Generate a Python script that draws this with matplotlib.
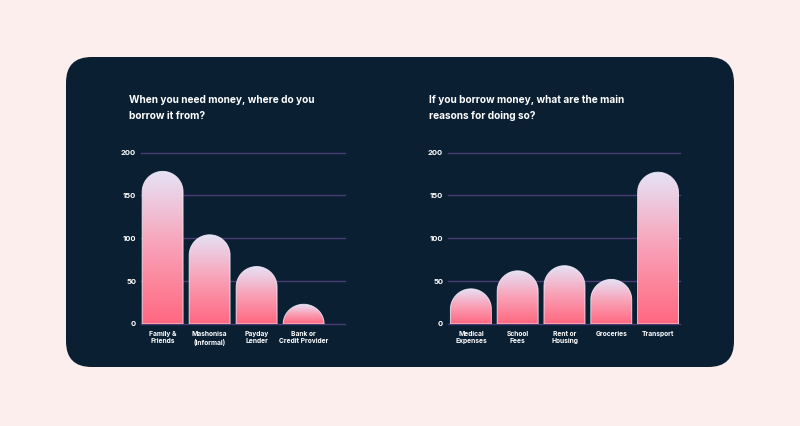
import numpy as np
import matplotlib
matplotlib.use("Agg")
import matplotlib.pyplot as plt
from matplotlib.patches import FancyBboxPatch, PathPatch
from matplotlib.path import Path
from matplotlib.colors import LinearSegmentedColormap

# ---- data ----
left_title = "When you need money, where do you\nborrow it from?"
left_labels = ["Family &\nFriends", "Mashonisa\n(Informal)", "Payday\nLender", "Bank or\nCredit Provider"]
left_values = [178, 104, 67, 23]

right_title = "If you borrow money, what are the main\nreasons for doing so?"
right_labels = ["Medical\nExpenses", "School\nFees", "Rent or\nHousing", "Groceries", "Transport"]
right_values = [41, 62, 68, 52, 177]

y_ticks = [0, 50, 100, 150, 200]

PAGE_BG = "#fdeeee"
PANEL_BG = "#0b1f33"
GRID = "#4a3c72"
FONT = ["Inter", "DejaVu Sans"]

plt.rcParams["font.family"] = FONT

bar_cmap = LinearSegmentedColormap.from_list(
    "bar", ["#ff6880", "#f9a0b6", "#e6e2f6"])


def rounded_bar(ax, xc, h, w, r_px):
    """bar with a round top, radius given in pixels so it stays circular"""
    bbox = ax.get_window_extent()
    y0, y1 = ax.get_ylim()
    px_y = bbox.height / (y1 - y0)
    rx = w / 2
    ry = min(r_px / px_y, h)
    t = np.linspace(np.pi, 0, 40)
    xs = [xc - w / 2, xc - w / 2] + list(xc + rx * np.cos(t)) + [xc + w / 2, xc + w / 2]
    ys = [0, h - ry] + list(h - ry + ry * np.sin(t)) + [h - ry, 0]
    verts = list(zip(xs, ys)) + [(xs[0], ys[0])]
    codes = [Path.MOVETO] + [Path.LINETO] * (len(verts) - 2) + [Path.CLOSEPOLY]
    path = Path(verts, codes)
    grad = np.linspace(0, 1, 256).reshape(-1, 1)
    im = ax.imshow(grad, cmap=bar_cmap, origin="lower", aspect="auto",
                   extent=(xc - w / 2, xc + w / 2, 0, h), zorder=3)
    patch = PathPatch(path, facecolor="none", edgecolor="none", zorder=3)
    ax.add_patch(patch)
    im.set_clip_path(patch)
    outline = PathPatch(path, facecolor="none", edgecolor="#f4f2ff",
                        linewidth=0.7, alpha=0.8, zorder=4)
    ax.add_patch(outline)


def draw_panel(ax, labels, values, xlim, width):
    ax.set_facecolor("none")
    ax.set_xlim(*xlim)
    ax.set_ylim(0, 200)
    ax.set_yticks(y_ticks)
    ax.set_yticklabels([str(v) for v in y_ticks], color="white",
                       fontsize=5.5, fontweight="bold")
    ax.set_xticks(range(len(labels)))
    ax.set_xticklabels(labels, color="white", fontsize=4.8, fontweight="bold",
                       linespacing=1.3)
    ax.tick_params(axis="x", length=0, pad=5)
    ax.tick_params(axis="y", length=0, pad=3.5)
    for s in ax.spines.values():
        s.set_visible(False)
    for v in y_ticks:
        ax.axhline(v, color=GRID, linewidth=1, zorder=1, clip_on=False)
    for i, v in enumerate(values):
        rounded_bar(ax, i, v, width, 20.5)
    ax.set_xlim(*xlim)
    ax.set_ylim(0, 200)


fig = plt.figure(figsize=(8, 4.26), dpi=100)
fig.patch.set_facecolor(PAGE_BG)

panel = FancyBboxPatch((66 / 800, 1 - 367 / 426), (734 - 66) / 800, (367 - 57) / 426,
                       boxstyle="round,pad=0,rounding_size=0.032",
                       transform=fig.transFigure, facecolor=PANEL_BG,
                       edgecolor="none", mutation_aspect=800 / 426, zorder=-1)
fig.patches.append(panel)

ax1 = fig.add_axes([141 / 800, 102 / 426, 204 / 800, 171.5 / 426])
ax2 = fig.add_axes([448 / 800, 102 / 426, 232 / 800, 171.5 / 426])

draw_panel(ax1, left_labels, left_values, (-0.46, 3.88), 0.87)
draw_panel(ax2, right_labels, right_values, (-0.49, 4.47), 0.876)

fig.text(129 / 800, 1 - 95 / 426, left_title, color="white", fontsize=7.3,
         fontweight="bold", va="top", ha="left", linespacing=1.75)
fig.text(429 / 800, 1 - 95 / 426, right_title, color="white", fontsize=7.3,
         fontweight="bold", va="top", ha="left", linespacing=1.75)

fig.savefig("out.png", dpi=100, facecolor=PAGE_BG)
